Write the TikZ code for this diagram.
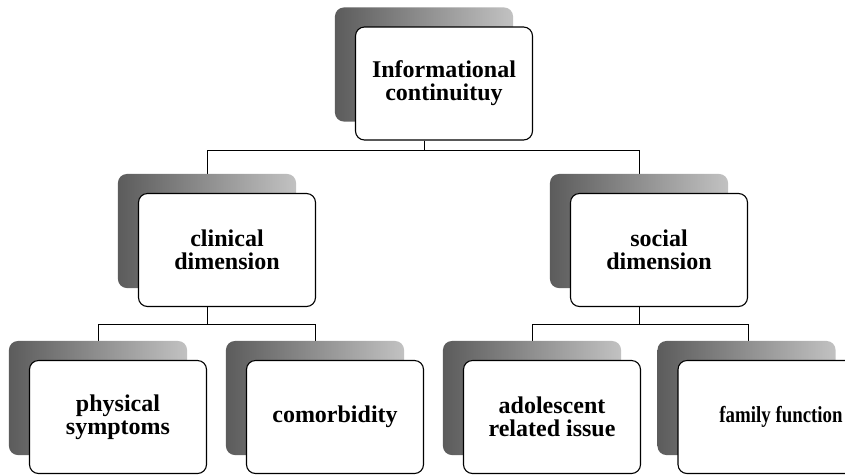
\documentclass[tikz,border=0pt]{standalone}
\usepackage{graphicx}
\usepackage{fontspec}
\setmainfont{Liberation Serif}
\usetikzlibrary{backgrounds}
\begin{document}
\begin{tikzpicture}[x=1pt,y=-1pt,
  card/.style={draw=black, line width=1.1pt, fill=white, rounded corners=9pt,
    minimum width=177pt, minimum height=113pt, align=center, inner sep=0pt,
    font=\fontsize{24}{23}\selectfont\bfseries},
  link/.style={draw=black, line width=0.9pt},
  backcard/.style={rounded corners=9pt, left color=black!64, right color=black!24}]
\useasboundingbox (0,0) rectangle (845,475);

% hierarchy boxes
\node[card] (top)  at (444,83.5) {Informational\\continuituy};
\node[card] (clin) at (227,250)  {clinical\\dimension};
\node[card] (soc)  at (659,250)  {social\\dimension};
\node[card] (phys) at (118,417)  {physical\\symptoms};
\node[card] (como) at (335,417)  {comorbidity};
\node[card] (adol) at (552,417)  {adolescent\\related issue};
\node[card, minimum width=206pt] (fam) at (781,417)
  {\scalebox{0.82}[1]{\fontsize{23}{23}\selectfont family function}};

\begin{pgfonlayer}{background}
  % elbow connectors, running along the middle of each back card
  \draw[link] ([xshift=-20pt]top.south) -- ++(0,10) -| ([xshift=-20pt]clin.north);
  \draw[link] ([xshift=-20pt]top.south) -- ++(0,10) -| ([xshift=-20pt]soc.north);
  \draw[link] ([xshift=-20pt]clin.south) -- ++(0,17) -| ([xshift=-20pt]phys.north);
  \draw[link] ([xshift=-20pt]clin.south) -- ++(0,17) -| ([xshift=-20pt]como.north);
  \draw[link] ([xshift=-20pt]soc.south) -- ++(0,17) -| ([xshift=-20pt]adol.north);
  \draw[link] ([xshift=-20pt]soc.south) -- ++(0,17) -| ([xshift=-33pt]fam.north);
  % grey back cards, offset up and to the left
  \foreach \n in {top,clin,soc,phys,como,adol}
    \path[backcard] ([shift={(-20,-19)}]\n.north west) rectangle ([shift={(-20,-19)}]\n.south east);
  \path[backcard] ([shift={(-20,-19)}]fam.north west) rectangle ([shift={(-49,-19)}]fam.south east);
\end{pgfonlayer}
\end{tikzpicture}
\end{document}
